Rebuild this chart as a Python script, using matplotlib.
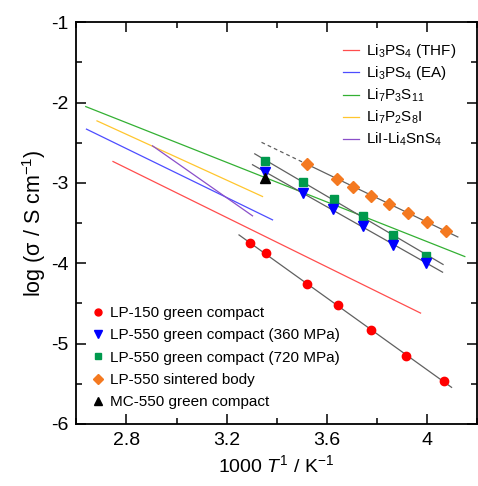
"""Arrhenius plot: log conductivity vs 1000/T for the LP/MC samples plus literature lines."""
import numpy as np
import matplotlib
matplotlib.use("Agg")
import matplotlib.pyplot as plt
from matplotlib.lines import Line2D

plt.rcParams["font.family"] = ["Liberation Sans", "DejaVu Sans"]
plt.rcParams["mathtext.fontset"] = "custom"
plt.rcParams["mathtext.rm"] = "Liberation Sans"
plt.rcParams["mathtext.it"] = "Liberation Sans:italic"
plt.rcParams["axes.unicode_minus"] = False

# --- measured data (1000/T, log sigma) ---
lp150_x = [3.293, 3.356, 3.520, 3.644, 3.776, 3.917, 4.069]
lp150_y = [-3.746, -3.874, -4.257, -4.522, -4.830, -5.153, -5.461]
lp550_360_x = [3.353, 3.504, 3.626, 3.744, 3.864, 3.997]
lp550_360_y = [-2.870, -3.127, -3.326, -3.534, -3.771, -3.999]
lp550_720_x = [3.353, 3.504, 3.628, 3.746, 3.866, 3.997]
lp550_720_y = [-2.725, -2.990, -3.198, -3.413, -3.646, -3.908]
sint_x = [3.522, 3.642, 3.706, 3.776, 3.850, 3.924, 4.000, 4.077]
sint_y = [-2.758, -2.953, -3.045, -3.157, -3.260, -3.372, -3.484, -3.596]
mc550_x = [3.353]
mc550_y = [-2.940]

# x-range of each grey Arrhenius fit
fit_range = {
    "lp150": (3.25, 4.10),
    "lp550_360": (3.304, 4.064),
    "lp550_720": (3.313, 4.066),
    "sint": (3.52, 4.125),
}
sint_extrap = (3.34, 3.52)

# --- literature lines: (x0, x1), (y0, y1) ---
lit_names = ["Li$_3$PS$_4$ (THF)", "Li$_3$PS$_4$ (EA)", "Li$_7$P$_3$S$_{11}$",
             "Li$_7$P$_2$S$_8$I", "LiI-Li$_4$SnS$_4$"]
lit_x = [(2.746, 3.976), (2.640, 3.384), (2.637, 4.153), (2.682, 3.344), (2.904, 3.304)]
lit_y = [(-2.733, -4.621), (-2.330, -3.460), (-2.049, -3.917), (-2.227, -3.169), (-2.538, -3.410)]
lit_colors = ["#ff4d4d", "#4d4dff", "#33b033", "#ffc62e", "#8a4fc9"]

fig = plt.figure(figsize=(4.78, 4.86), dpi=100)
ax = fig.add_axes([0.160, 0.128, 0.837, 0.826])

for xs, ys, c in zip(lit_x, lit_y, lit_colors):
    ax.plot(xs, ys, color=c, lw=0.9)

grey = "#606060"
series = [
    ("lp150", lp150_x, lp150_y),
    ("lp550_360", lp550_360_x, lp550_360_y),
    ("lp550_720", lp550_720_x, lp550_720_y),
    ("sint", sint_x, sint_y),
]
for key, xs, ys in series:
    k, b = np.polyfit(xs, ys, 1)
    xx = np.array(fit_range[key])
    ax.plot(xx, k * xx + b, color=grey, lw=0.9)
    if key == "sint":
        xe = np.array(sint_extrap)
        ax.plot(xe, k * xe + b, color=grey, lw=0.9, ls=(0, (3, 2.5)))

ms = 6.5
ax.plot(lp150_x, lp150_y, "o", color="#ff0000", ms=6, ls="none")
ax.plot(lp550_720_x, lp550_720_y, "s", color="#00994d", ms=6, ls="none")
ax.plot(lp550_360_x, lp550_360_y, "v", color="#0000ff", ms=ms, ls="none")
ax.plot(mc550_x, mc550_y, "^", color="black", ms=ms, ls="none")
ax.plot(sint_x, sint_y, "D", color="#f47920", ms=6, ls="none")

ax.set_xlim(2.6, 4.2)
ax.set_ylim(-6, -1)
ax.set_xticks([2.8, 3.2, 3.6, 4.0])
ax.set_xticklabels(["2.8", "3.2", "3.6", "4"])
ax.set_xticks(np.arange(2.6, 4.21, 0.2), minor=True)
ax.set_yticks([-6, -5, -4, -3, -2, -1])
ax.set_yticks(np.arange(-6, -0.9, 0.5), minor=True)
ax.tick_params(which="both", direction="in", top=True, right=True, width=1.1)
ax.tick_params(which="major", length=7, labelsize=14, pad=6)
ax.tick_params(which="minor", length=4)
for s in ax.spines.values():
    s.set_linewidth(1.3)

ax.set_xlabel("1000 $\\it{T}^{1}$ / K$^{-1}$", fontsize=14, labelpad=4)
ax.set_ylabel("log (σ / S cm$^{-1}$)", fontsize=15.5, labelpad=2)

# upper-right legend: literature lines
lit_handles = [Line2D([], [], color=c, lw=0.9) for c in lit_colors]
leg1 = ax.legend(lit_handles, lit_names, loc="upper right", bbox_to_anchor=(0.975, 0.978),
                 frameon=False, fontsize=11, handlelength=1.0, handletextpad=0.45,
                 labelspacing=0.3, borderaxespad=0.3)
ax.add_artist(leg1)

# lower-left legend: samples
samp_handles = [
    Line2D([], [], marker="o", color="#ff0000", ls="none", ms=5),
    Line2D([], [], marker="v", color="#0000ff", ls="none", ms=5.5),
    Line2D([], [], marker="s", color="#00994d", ls="none", ms=5),
    Line2D([], [], marker="D", color="#f47920", ls="none", ms=5),
    Line2D([], [], marker="^", color="black", ls="none", ms=5.5),
]
samp_names = ["LP-150 green compact", "LP-550 green compact (360 MPa)",
              "LP-550 green compact (720 MPa)", "LP-550 sintered body",
              "MC-550 green compact"]
ax.legend(samp_handles, samp_names, loc="lower left", bbox_to_anchor=(0.012, 0.009),
          frameon=False, fontsize=11, handlelength=0.8, handletextpad=0.4,
          labelspacing=0.55, borderaxespad=0.3)

fig.savefig("out.png", dpi=100)
